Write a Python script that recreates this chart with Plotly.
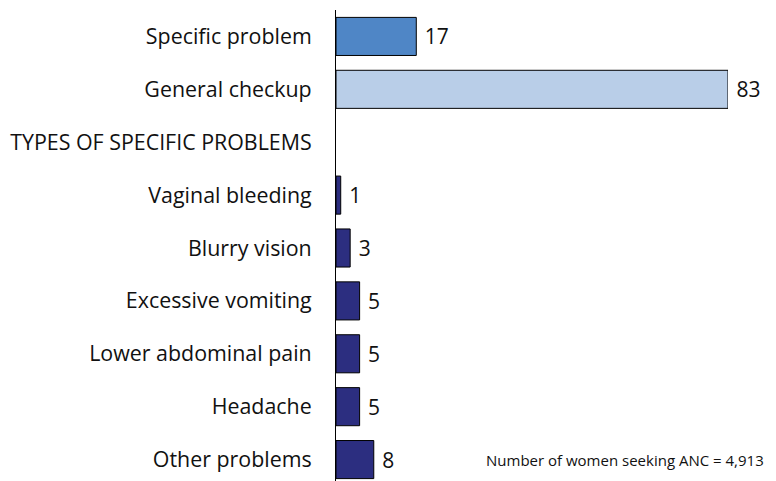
import plotly.graph_objects as go

categories = ["Specific problem", "General checkup", "TYPES OF SPECIFIC PROBLEMS",
              "Vaginal bleeding", "Blurry vision", "Excessive vomiting",
              "Lower abdominal pain", "Headache", "Other problems"]
values = [17, 83, None, 1, 3, 5, 5, 5, 8]
colors = ["#4f86c6", "#b9cee8", "#ffffff", "#2c2e80", "#2c2e80", "#2c2e80",
          "#2c2e80", "#2c2e80", "#2c2e80"]
note = "Number of women seeking ANC = 4,913"

labels = [" " + str(v) if v is not None else "" for v in values]

fig = go.Figure(go.Bar(
    y=categories, x=values, orientation="h",
    marker=dict(color=colors, line=dict(color="#000000", width=1)),
    text=labels, textposition="outside", cliponaxis=False,
    textfont=dict(size=21, color="#111111", family="Open Sans"),
    width=0.72,
))
fig.update_layout(
    width=768, height=480,
    margin=dict(l=328, r=48, t=2, b=2),
    plot_bgcolor="white", paper_bgcolor="white",
    showlegend=False,
    font=dict(family="Open Sans", size=21, color="#111111"),
    xaxis=dict(range=[0, 83], visible=False, fixedrange=True),
    yaxis=dict(autorange="reversed", showline=True, linecolor="#000000", linewidth=1,
               ticks="", ticklabelstandoff=19, showgrid=False, automargin=False,
               tickfont=dict(size=21.4, family="Open Sans", color="#111111")),
    annotations=[dict(text=note, xref="paper", yref="paper", x=0.378, y=0.055,
                      xanchor="left", yanchor="middle", showarrow=False,
                      font=dict(size=15, family="Open Sans", color="#111111"))],
)
fig.write_html("out.html")
